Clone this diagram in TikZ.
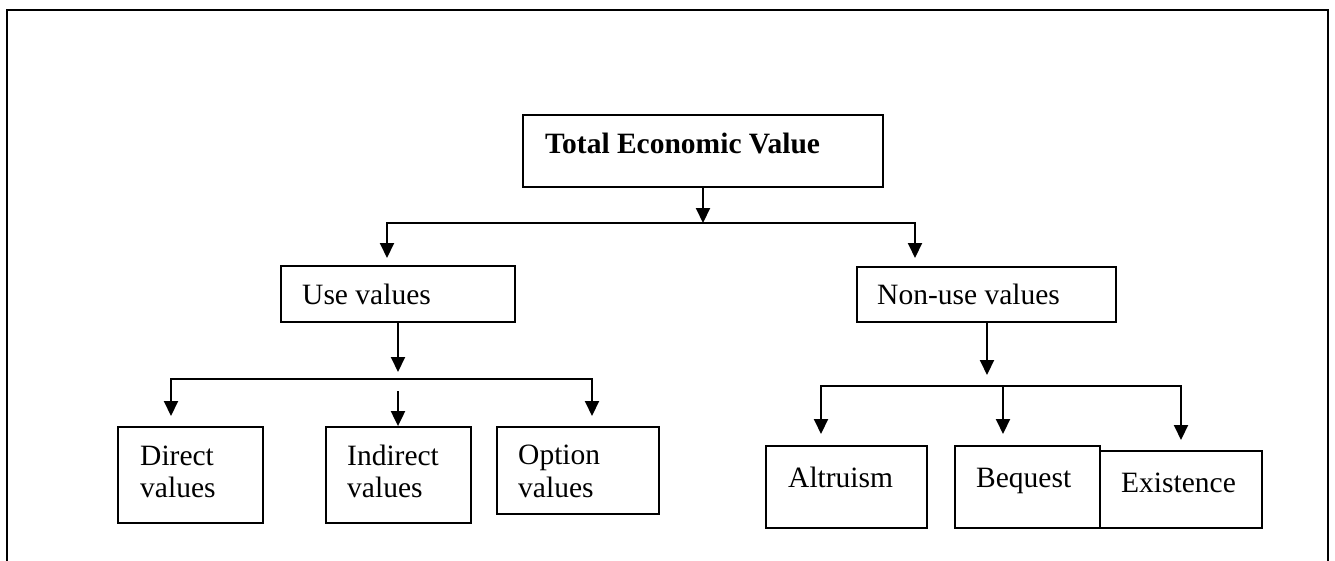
\documentclass[tikz,border=0pt]{standalone}
\usepackage{fontspec}
\setmainfont{Liberation Serif}
\usetikzlibrary{arrows.meta}
\begin{document}
\begin{tikzpicture}[x=1pt,y=-1pt,
  box/.style={draw, line width=1.8pt, rectangle, inner sep=0pt},
  txt/.style={anchor=base west, inner sep=0pt, font=\fontsize{29.5}{32}\selectfont},
  arr/.style={line width=2pt, -{Triangle[width=14pt,length=15pt]}}]
\useasboundingbox (0,0) rectangle (1335,560);
\clip (0,0) rectangle (1335,560);
\fill[white] (0,0) rectangle (1335,560);
% outer frame
\draw[line width=2.6pt] (7,600) -- (7,10) -- (1328,10) -- (1328,600);
% boxes
\node[box, minimum width=360pt, minimum height=72pt] (tev) at (703,151) {};
\node[box, minimum width=234pt, minimum height=56pt] (use) at (398,294) {};
\node[box, minimum width=259pt, minimum height=55pt] (non) at (986.5,294.5) {};
\node[box, minimum width=145pt, minimum height=96pt] (dir) at (190.5,475) {};
\node[box, minimum width=145pt, minimum height=96pt] (ind) at (398.5,475) {};
\node[box, minimum width=162pt, minimum height=87pt] (opt) at (578,470.5) {};
\node[box, minimum width=161pt, minimum height=82pt] (alt) at (846.5,487) {};
\node[box, minimum width=145pt, minimum height=82pt] (beq) at (1027.5,487) {};
\node[box, minimum width=162pt, minimum height=77pt] (exi) at (1181,489.5) {};
% texts
\node[txt, font=\fontsize{29.5}{32}\selectfont\bfseries] (tevt) at (545,153) {Total Economic Value};
\node[txt] (uset) at (302,304) {Use values};
\node[txt] (nont) at (877,304) {Non-use values};
\node[txt] (dirt1) at (140,465) {Direct};
\node[txt] (dirt2) at (140,497) {values};
\node[txt] (indt1) at (347,465) {Indirect};
\node[txt] (indt2) at (347,497) {values};
\node[txt] (optt1) at (518,464) {Option};
\node[txt] (optt2) at (518,497) {values};
\node[txt] (altt) at (788,487) {Altruism};
\node[txt] (beqt) at (976,487) {Bequest};
\node[txt] (exit) at (1121,492) {Existence};
% level 1 connectors
\coordinate (j0) at (703,223);
\coordinate (t1) at (387,258);
\coordinate (t2) at (915,258);
\draw[arr] (tev.south) -- (j0);
\draw[arr] (j0) -| (t1);
\draw[arr] (j0) -| (t2);
% level 2 left
\coordinate (u1) at (398,372);
\coordinate (b1) at (398,379);
\coordinate (ta) at (171,416);
\coordinate (tc) at (592,416);
\coordinate (m1) at (398,391);
\coordinate (m2) at (398,427);
\draw[arr] (use.south) -- (u1);
\draw[arr] (b1) -| (ta);
\draw[arr] (b1) -| (tc);
\draw[arr] (m1) -- (m2 |- ind.north);
% level 2 right
\coordinate (n1) at (987,375);
\coordinate (b2) at (1003,386);
\coordinate (td) at (821,434);
\coordinate (te) at (1003,434);
\coordinate (tf) at (1181,440);
\draw[arr] (n1 |- non.south) -- (n1);
\draw[arr] (b2) -| (td);
\draw[arr] (b2) -- (te);
\draw[arr] (b2) -| (tf);
\end{tikzpicture}
\end{document}
